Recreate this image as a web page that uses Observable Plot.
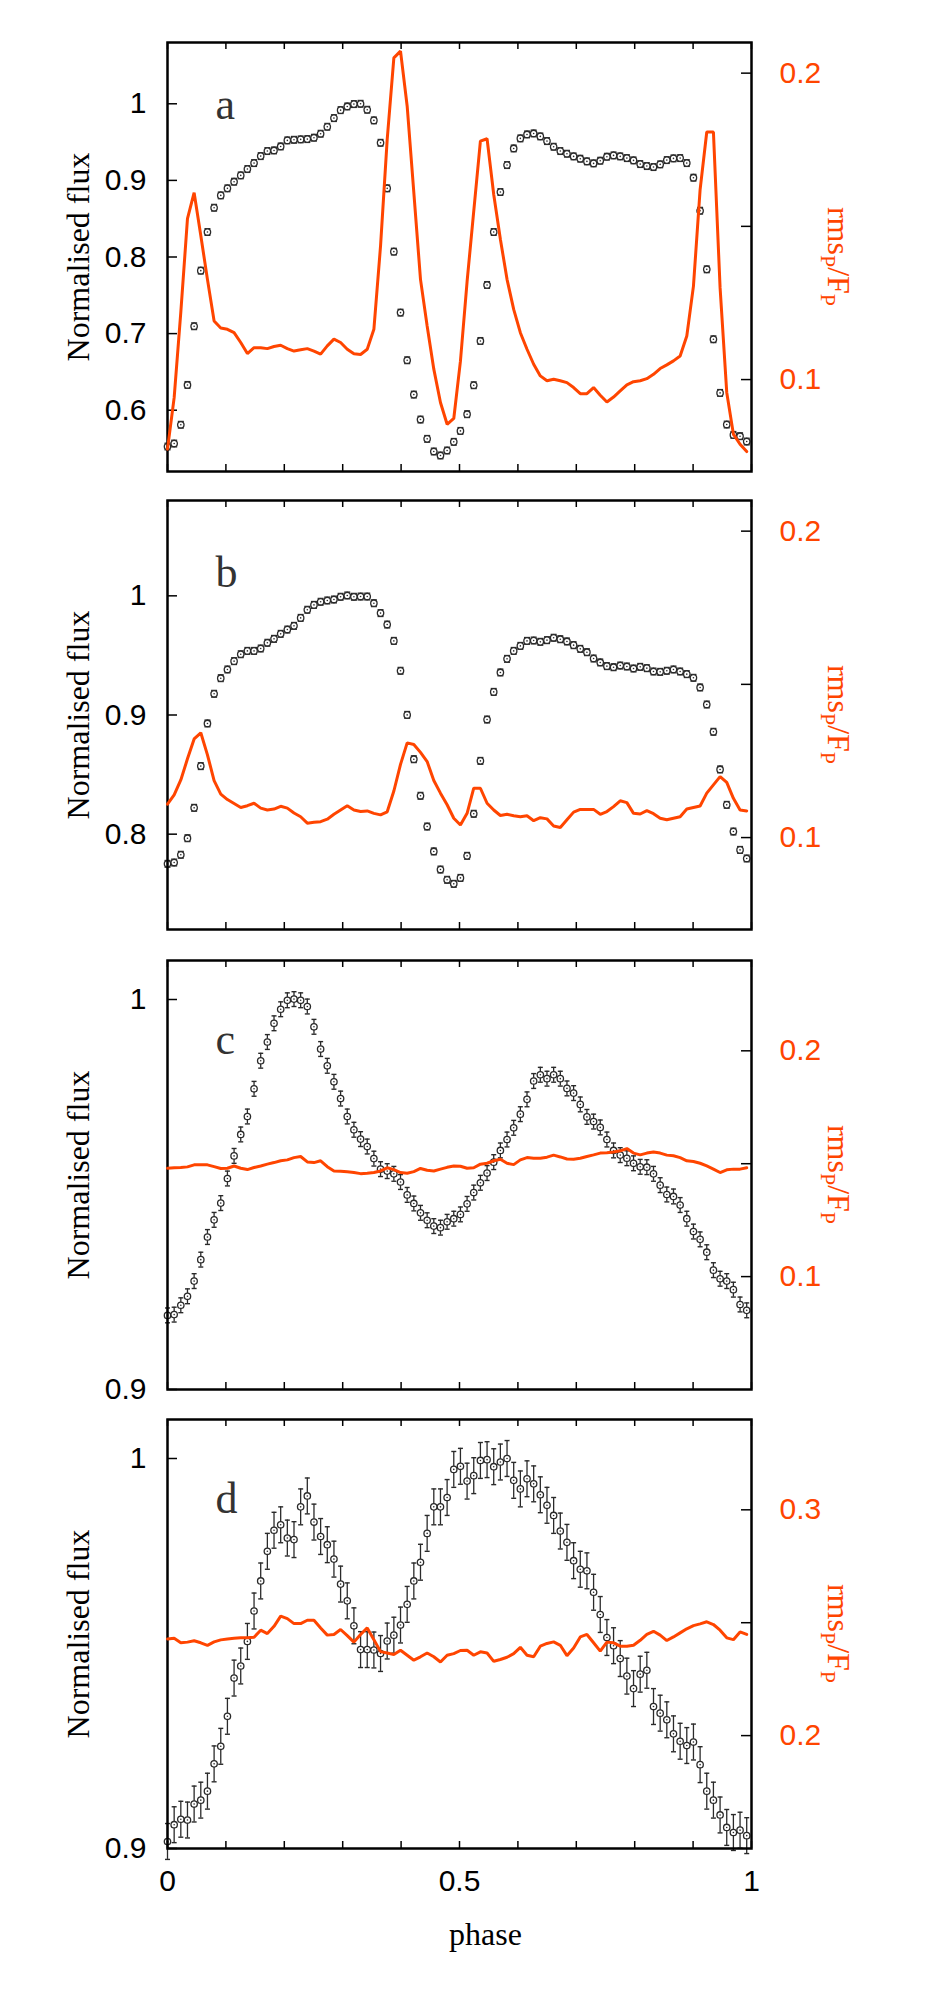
<!DOCTYPE html>
<html>
<head>
<meta charset="utf-8">
<script src="https://cdn.jsdelivr.net/npm/d3@7"></script>
<script src="https://cdn.jsdelivr.net/npm/@observablehq/plot@0.6"></script>
<style>
  html, body { margin: 0; padding: 0; background: #fff; }
  #root { position: relative; width: 926px; height: 1998px; overflow: hidden; }
  .layer { position: absolute; left: 0; }
</style>
</head>
<body>
<div id="root"></div>
<script>
// ---------- data ----------
const phase = [0,0.0114,0.0228,0.0342,0.0456,0.057,0.0684,0.0798,0.0912,0.1026,
  0.114,0.1254,0.1368,0.1482,0.1596,0.171,0.1824,0.1938,0.2052,0.2166,
  0.228,0.2394,0.2508,0.2622,0.2736,0.285,0.2964,0.3078,0.3192,0.3306,
  0.342,0.3534,0.3648,0.3762,0.3876,0.399,0.4104,0.4218,0.4332,0.4446,
  0.456,0.4674,0.4788,0.4902,0.5016,0.513,0.5244,0.5358,0.5472,0.5586,
  0.57,0.5814,0.5928,0.6042,0.6156,0.627,0.6384,0.6498,0.6612,0.6726,
  0.684,0.6954,0.7068,0.7182,0.7296,0.741,0.7524,0.7638,0.7752,0.7866,
  0.798,0.8094,0.8208,0.8322,0.8436,0.855,0.8664,0.8778,0.8892,0.9006,
  0.912,0.9234,0.9348,0.9462,0.9576,0.969,0.9804,0.9918];

const fluxA = [0.5526,0.5565,0.581,0.633,0.7096,0.7822,0.8326,0.8643,0.8804,0.8896,
  0.8983,0.9065,0.9148,0.9226,0.9317,0.9383,0.9391,0.9443,0.9522,0.953,
  0.9535,0.9539,0.9557,0.9609,0.97,0.9813,0.9917,0.9965,0.9996,1.0,
  0.9922,0.9783,0.9491,0.8896,0.807,0.7274,0.6652,0.6204,0.5878,0.5626,
  0.5461,0.5409,0.5474,0.5587,0.573,0.5948,0.6326,0.6904,0.7635,0.8326,
  0.8848,0.92,0.9417,0.9548,0.96,0.9613,0.9574,0.9513,0.9439,0.9383,
  0.9348,0.9313,0.9283,0.9248,0.9222,0.9257,0.9309,0.9326,0.9313,0.9291,
  0.9261,0.9213,0.9187,0.9174,0.9209,0.9265,0.9287,0.9291,0.9226,0.9035,
  0.8604,0.7839,0.6926,0.6226,0.5813,0.5678,0.5661,0.5591];
const rmsA = [0.0773,0.0941,0.122,0.1525,0.161,0.147,0.1327,0.1191,0.1168,0.1164,
  0.1153,0.1121,0.1085,0.1104,0.1104,0.1101,0.1108,0.1112,0.1101,0.1093,
  0.1097,0.1101,0.1093,0.1083,0.111,0.1132,0.1121,0.1099,0.1084,0.1082,
  0.1099,0.1164,0.1436,0.1784,0.205,0.2072,0.1892,0.161,0.1327,0.1175,
  0.1034,0.0925,0.0854,0.0873,0.106,0.132,0.155,0.1778,0.1786,0.1604,
  0.1458,0.1327,0.1229,0.1153,0.1099,0.105,0.1012,0.0996,0.1001,0.0996,
  0.099,0.0974,0.0954,0.0954,0.0974,0.0949,0.0927,0.0943,0.0963,0.0983,
  0.0993,0.0996,0.1003,0.1017,0.1036,0.1048,0.1061,0.1077,0.1142,0.1305,
  0.162,0.1808,0.1808,0.13,0.0958,0.0822,0.0789,0.0765];

const fluxB = [0.7751,0.7762,0.7827,0.7966,0.8221,0.8571,0.8929,0.9178,0.9309,0.9382,
  0.9452,0.951,0.9538,0.9538,0.9558,0.9606,0.9639,0.9681,0.9717,0.9748,
  0.9815,0.9883,0.9924,0.995,0.9961,0.9969,0.9992,1.0003,0.9992,0.9994,
  0.9994,0.9938,0.9855,0.9759,0.9622,0.9371,0.9001,0.8629,0.8322,0.8064,
  0.7855,0.7703,0.7617,0.7583,0.7633,0.7818,0.8171,0.8615,0.8962,0.9194,
  0.9357,0.9471,0.9538,0.958,0.9622,0.9625,0.9614,0.9628,0.9648,0.9636,
  0.9617,0.9586,0.9555,0.9527,0.9474,0.9441,0.941,0.9401,0.9415,0.9407,
  0.939,0.9404,0.9393,0.9365,0.9362,0.9371,0.9382,0.9365,0.9343,0.9312,
  0.9231,0.9088,0.8859,0.8543,0.8246,0.8022,0.7868,0.7796];
const rmsB = [0.1109,0.1139,0.1188,0.1257,0.1322,0.1342,0.127,0.1186,0.1142,0.1124,
  0.1111,0.1098,0.1104,0.1112,0.1096,0.109,0.1093,0.1102,0.1096,0.108,
  0.1068,0.1047,0.105,0.1052,0.106,0.1076,0.109,0.1104,0.109,0.1085,
  0.1087,0.1079,0.1074,0.1084,0.1152,0.1239,0.1309,0.1304,0.1278,0.1248,
  0.1186,0.1145,0.1107,0.1063,0.1041,0.1079,0.1161,0.1161,0.1112,0.109,
  0.1072,0.1076,0.1071,0.1068,0.1071,0.1055,0.1065,0.1061,0.1038,0.1033,
  0.1058,0.1083,0.1092,0.1092,0.1092,0.1076,0.1085,0.1101,0.112,0.1114,
  0.1079,0.1077,0.1088,0.1078,0.1063,0.1058,0.1063,0.1068,0.1093,0.1098,
  0.1103,0.1145,0.1172,0.1199,0.118,0.1128,0.109,0.1087];

const fluxC = [0.919,0.9192,0.9216,0.9239,0.9278,0.9333,0.9391,0.9435,0.9478,0.9541,
  0.9599,0.9654,0.97,0.9771,0.9843,0.9891,0.9939,0.9975,0.9998,1.0001,
  0.9998,0.9982,0.993,0.9873,0.983,0.9789,0.9746,0.97,0.9666,0.9642,
  0.9623,0.9592,0.9565,0.956,0.9553,0.9532,0.9499,0.9477,0.9453,0.9434,
  0.9419,0.9415,0.943,0.9438,0.9449,0.9476,0.9505,0.953,0.9555,0.9583,
  0.9613,0.9641,0.9671,0.9706,0.9744,0.9791,0.9807,0.9797,0.9807,0.9797,
  0.9772,0.976,0.9731,0.9699,0.9687,0.9672,0.9641,0.9613,0.9601,0.9593,
  0.958,0.9571,0.957,0.9553,0.9524,0.95,0.9495,0.9473,0.9438,0.9405,
  0.9385,0.9352,0.9306,0.9284,0.9278,0.9256,0.9218,0.9203];
const rmsC = [0.148,0.1482,0.1483,0.1486,0.1495,0.1495,0.1495,0.1487,0.1479,0.148,
  0.149,0.148,0.1474,0.1483,0.149,0.1498,0.1505,0.1513,0.1517,0.1527,
  0.1532,0.1508,0.1505,0.1513,0.1487,0.1468,0.1467,0.1464,0.1461,0.1456,
  0.1458,0.1461,0.1468,0.1482,0.1474,0.1461,0.1458,0.1465,0.1479,0.1471,
  0.1468,0.1476,0.1484,0.149,0.1489,0.148,0.1482,0.1498,0.1502,0.1513,
  0.152,0.1502,0.1496,0.1517,0.1527,0.1524,0.1524,0.1529,0.1538,0.153,
  0.1521,0.152,0.1524,0.1532,0.1539,0.1547,0.1549,0.1552,0.1557,0.1567,
  0.1547,0.1539,0.1547,0.1552,0.1547,0.1538,0.1535,0.1527,0.1513,0.151,
  0.1502,0.149,0.1476,0.1461,0.1473,0.1476,0.1476,0.1482];

const fluxD = [0.9018,0.9061,0.9075,0.9073,0.9114,0.9124,0.9147,0.9217,0.9262,0.9339,
  0.9437,0.9468,0.9531,0.9609,0.9686,0.9762,0.9816,0.983,0.9796,0.9792,
  0.9876,0.9904,0.9837,0.98,0.9779,0.9742,0.9678,0.9635,0.9571,0.951,
  0.951,0.9509,0.95,0.9532,0.9547,0.9573,0.9626,0.9686,0.9734,0.9808,
  0.9876,0.9876,0.99,0.9972,0.998,0.9942,0.9956,0.9995,0.9997,0.9979,
  0.9991,1.0,0.9944,0.9922,0.9948,0.9935,0.9907,0.988,0.9854,0.9814,
  0.9785,0.9738,0.9716,0.9712,0.9657,0.96,0.9541,0.952,0.9487,0.9442,
  0.941,0.9447,0.9457,0.9364,0.9347,0.933,0.9294,0.9275,0.9264,0.9273,
  0.9215,0.9147,0.9124,0.9086,0.9054,0.9041,0.9047,0.9033];
const rmsD = [0.2428,0.2431,0.2411,0.2414,0.242,0.2411,0.24,0.2415,0.2424,0.2428,
  0.2431,0.2433,0.2433,0.2436,0.2467,0.2452,0.2484,0.2529,0.2518,0.2496,
  0.2496,0.2511,0.2511,0.2477,0.2445,0.2448,0.247,0.2443,0.2414,0.2448,
  0.2477,0.2425,0.2372,0.2366,0.2359,0.2378,0.2356,0.2334,0.2349,0.2366,
  0.2349,0.2326,0.2356,0.2363,0.2377,0.2378,0.2356,0.2371,0.2366,0.2329,
  0.2337,0.2347,0.2363,0.2391,0.2356,0.2349,0.2396,0.2408,0.2415,0.24,
  0.2354,0.2388,0.2437,0.2448,0.2411,0.2374,0.2414,0.2411,0.2396,0.2396,
  0.24,0.2422,0.2448,0.2462,0.2445,0.2421,0.2437,0.2455,0.2473,0.2487,
  0.2495,0.2504,0.2492,0.2467,0.2433,0.2425,0.2459,0.2448];

const fluxErr = [0.0043, 0.0028, 0.0019, 0.0046];

const panelLetters = ["a", "b", "c", "d"];
const xTicks = [0, 0.1, 0.2, 0.3, 0.4, 0.5, 0.6, 0.7, 0.8, 0.9, 1];
const xTickLabels = [0, 0.5, 1];
const fluxDomains = [[0.52, 1.08], [0.72, 1.08], [0.9, 1.01], [0.9, 1.01]];
const fluxTicks = [[0.6, 0.7, 0.8, 0.9, 1], [0.8, 0.9, 1], [0.9, 1], [0.9, 1]];
const rmsDomains = [[0.07, 0.21], [0.07, 0.21], [0.05, 0.24], [0.15, 0.34]];
const rmsTicks = [[0.1, 0.15, 0.2], [0.1, 0.15, 0.2], [0.1, 0.15, 0.2], [0.2, 0.25, 0.3]];
const rmsTickLabels = [[0.1, 0.2], [0.1, 0.2], [0.1, 0.2], [0.2, 0.3]];
const yLabel = "Normalised flux";
const xLabel = "phase";

// ---------- layout & style ----------
const W = 926;
const ML = 167, MR = 175;
const frameTops = [42, 500, 960, 1419];
const frameH = 429;
const letterDy = [62, 72, 79, 79];
const capHalf = [3, 3, 2.5, 2.5];
const ORANGE = "#ff4500";
const INK = "#2a2a2a";
const SANS = "'Liberation Sans', Arial, Helvetica, sans-serif";
const SERIF = "'Liberation Serif', 'Times New Roman', Times, serif";
const TICK_FONT = 30;

const fluxes = [fluxA, fluxB, fluxC, fluxD];
const rmses = [rmsA, rmsB, rmsC, rmsD];

const capSymbol = {
  draw(context, size) {
    const w = Math.sqrt(size / Math.PI);
    context.moveTo(-w, 0);
    context.lineTo(w, 0);
  }
};

const root = document.getElementById("root");
const pw = W - ML - MR;

for (let i = 0; i < 4; i++) {
  const last = i === 3;
  const mt = 20, mb = last ? 131 : 20;
  const height = mt + frameH + mb;
  const err = fluxErr[i];
  const data = phase.map((p, k) => ({p, f: fluxes[i][k], r: rmses[i][k]}));

  const common = {
    width: W, height,
    marginLeft: ML, marginRight: MR, marginTop: mt, marginBottom: mb
  };

  const leftMarks = [
    Plot.ruleX(data, {x: "p", y1: d => d.f - err, y2: d => d.f + err, stroke: INK, strokeWidth: 1.3}),
    Plot.dot(data, {x: "p", y: d => d.f - err, symbol: capSymbol, r: capHalf[i], fill: "none", stroke: INK, strokeWidth: 1.4}),
    Plot.dot(data, {x: "p", y: d => d.f + err, symbol: capSymbol, r: capHalf[i], fill: "none", stroke: INK, strokeWidth: 1.4}),
    Plot.dot(data, {x: "p", y: "f", r: 3.2, fill: "white", stroke: INK, strokeWidth: 1.3}),
    Plot.dot(data, {x: "p", y: "f", r: 0.8, fill: INK, stroke: "none"}),
    Plot.tickX(xTicks, {x: d => d, insetTop: frameH - 7, stroke: "black", strokeWidth: 1.5}),
    Plot.tickX(xTicks, {x: d => d, insetBottom: frameH - 7, stroke: "black", strokeWidth: 1.5}),
    Plot.tickY(fluxTicks[i], {y: d => d, insetRight: pw - 10, stroke: "black", strokeWidth: 1.5}),
    Plot.axisY(fluxTicks[i], {anchor: "left", tickSize: 0, tickPadding: 21, tickFormat: d => String(d),
      label: null, fontSize: TICK_FONT, fontFamily: SANS, fill: "black"}),
    Plot.text([panelLetters[i]], {text: d => d, frameAnchor: "top-left", dx: 48, dy: letterDy[i],
      textAnchor: "start", lineAnchor: "middle", fontFamily: SERIF, fontSize: 44, fill: "#333"}),
    Plot.text([yLabel], {text: d => d, frameAnchor: "left", dx: -89, rotate: -90,
      textAnchor: "middle", lineAnchor: "middle", fontFamily: SERIF, fontSize: 32, fill: "black"}),
    Plot.frame({stroke: "black", strokeWidth: 2.5})
  ];
  if (last) {
    leftMarks.push(
      Plot.axisX(xTickLabels, {anchor: "bottom", tickSize: 0, tickPadding: 21, tickFormat: d => String(d),
        label: null, fontSize: TICK_FONT, fontFamily: SANS, fill: "black"}),
      Plot.text([xLabel], {text: d => d, frameAnchor: "bottom", dx: 26, dy: 86,
        textAnchor: "middle", lineAnchor: "middle", fontFamily: SERIF, fontSize: 32, fill: "black"})
    );
  }

  const left = Plot.plot({
    ...common,
    style: {background: "white", overflow: "visible"},
    x: {domain: [0, 1], axis: last ? undefined : null},
    y: {domain: fluxDomains[i]},
    marks: leftMarks
  });

  const right = Plot.plot({
    ...common,
    style: {background: "transparent", overflow: "visible"},
    x: {domain: [0, 1], axis: null},
    y: {domain: rmsDomains[i]},
    marks: [
      Plot.line(data, {x: "p", y: "r", stroke: ORANGE, strokeWidth: 3, strokeLinejoin: "miter"}),
      Plot.tickY(rmsTicks[i], {y: d => d, insetLeft: pw - 10, stroke: "black", strokeWidth: 1.5}),
      Plot.axisY(rmsTickLabels[i], {anchor: "right", tickSize: 0, tickPadding: 28, tickFormat: d => String(d),
        label: null, fontSize: TICK_FONT, fontFamily: SANS, fill: ORANGE})
    ]
  });

  // right-axis title with subscripts
  const t = d3.select(right).append("text")
    .attr("transform", `translate(${W - MR + 77},${mt + frameH / 2}) rotate(90)`)
    .attr("text-anchor", "middle")
    .attr("font-family", SERIF)
    .attr("font-size", 32)
    .attr("fill", ORANGE);
  t.append("tspan").text("rms");
  t.append("tspan").attr("font-size", 22).attr("dy", 7).text("P");
  t.append("tspan").attr("dy", -7).text("/F");
  t.append("tspan").attr("font-size", 22).attr("dy", 7).text("P");

  for (const svg of [left, right]) {
    const wrap = document.createElement("div");
    wrap.className = "layer";
    wrap.style.top = (frameTops[i] - mt) + "px";
    wrap.appendChild(svg);
    root.appendChild(wrap);
  }
}
</script>
</body>
</html>
